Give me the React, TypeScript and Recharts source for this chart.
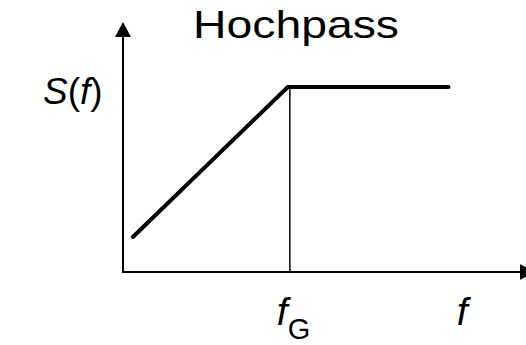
import React from 'react';
import {
  ComposedChart,
  Line,
  XAxis,
  YAxis,
  ReferenceLine,
  Customized,
} from 'recharts';

// Hochpass: Amplitudengang S(f), steigt bis zur Grenzfrequenz f_G, dann konstant
const responseF = [2.4, 40, 79];
const responseS = [14, 74, 74];
const cutoffF = 40.5;
const cutoffS = 74;
const tickValues = [cutoffF, 82.3];
const tickMain = ['f', 'f'];
const tickSub = ['G', ''];

const data = responseF.map((f, i) => ({ f, s: responseS[i] }));

const FONT = '"Liberation Sans", Arial, sans-serif';

function ArrowUp(props: any) {
  const { x1, y1, y2 } = props;
  const top = Math.min(y1, y2);
  const bottom = Math.max(y1, y2);
  return (
    <g>
      <line x1={x1} y1={bottom + 1} x2={x1} y2={top + 12} stroke="#000" strokeWidth={2} />
      <polygon points={`${x1},${top} ${x1 - 8},${top + 15} ${x1 + 8},${top + 15}`} fill="#000" />
    </g>
  );
}

function ArrowRight(props: any) {
  const { x1, y1, x2 } = props;
  const left = Math.min(x1, x2);
  const right = Math.max(x1, x2);
  return (
    <g>
      <line x1={left - 1} y1={y1} x2={right - 12} y2={y1} stroke="#000" strokeWidth={2} />
      <polygon points={`${right},${y1} ${right - 15},${y1 - 8} ${right - 15},${y1 + 8}`} fill="#000" />
    </g>
  );
}

function FreqTick(props: any) {
  const { x, y, index } = props;
  const sub = tickSub[index];
  return (
    <text
      x={sub ? x - 13 : x}
      y={y + 45}
      textAnchor={sub ? 'start' : 'middle'}
      fontFamily={FONT}
      fontSize={39}
      fill="#000"
    >
      <tspan fontStyle="italic">{tickMain[index]}</tspan>
      {sub && (
        <tspan fontSize={29} dy={14}>
          {sub}
        </tspan>
      )}
    </text>
  );
}

function Labels() {
  return (
    <g fontFamily={FONT} fill="#000">
      <text x={193} y={38} fontSize={39} textLength={206} lengthAdjust="spacingAndGlyphs">
        Hochpass
      </text>
      <text x={43} y={104} fontSize={37}>
        <tspan fontStyle="italic">S</tspan>(<tspan fontStyle="italic">f</tspan>)
      </text>
    </g>
  );
}

export default function App() {
  return (
    <div style={{ position: 'absolute', left: 0, top: 0, width: 526, height: 345, overflow: 'hidden', background: '#fff' }}>
      <ComposedChart
        width={535}
        height={345}
        data={data}
        margin={{ top: 22, right: 0, bottom: 0, left: 123 }}
      >
        <XAxis
          dataKey="f"
          type="number"
          domain={[0, 100]}
          ticks={tickValues}
          tick={<FreqTick />}
          axisLine={false}
          tickLine={false}
          height={73}
          interval={0}
        />
        <YAxis type="number" domain={[0, 100]} hide />
        <ReferenceLine
          segment={[{ x: 0, y: 0 }, { x: 0, y: 100 }]}
          shape={<ArrowUp />}
        />
        <ReferenceLine
          segment={[{ x: 0, y: 0 }, { x: 100, y: 0 }]}
          shape={<ArrowRight />}
        />
        <ReferenceLine
          segment={[{ x: cutoffF, y: 0 }, { x: cutoffF, y: cutoffS }]}
          stroke="#000"
          strokeWidth={1.5}
        />
        <Line
          dataKey="s"
          stroke="#000"
          strokeWidth={4}
          strokeLinecap="round"
          strokeLinejoin="miter"
          dot={false}
          isAnimationActive={false}
        />
        <Customized component={Labels} />
      </ComposedChart>
    </div>
  );
}
